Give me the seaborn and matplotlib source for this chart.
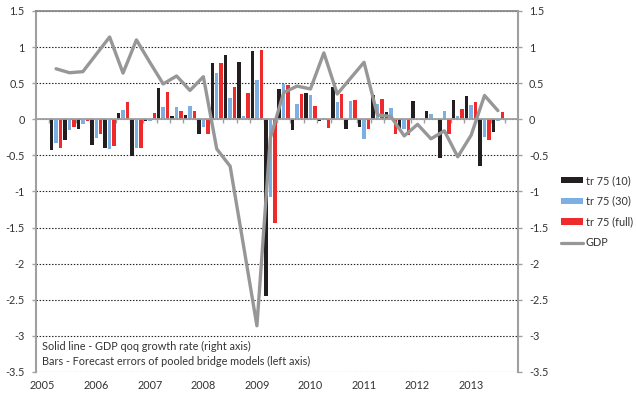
import numpy as np
import pandas as pd
import matplotlib
matplotlib.use("Agg")
import matplotlib.pyplot as plt
import seaborn as sns
from matplotlib.patches import Patch
from matplotlib.lines import Line2D

# Quarterly categories 2005Q1 .. 2013Q4
years = [2005, 2006, 2007, 2008, 2009, 2010, 2011, 2012, 2013]
quarters = [f"{y}Q{q}" for y in years for q in (1, 2, 3, 4)]

nan = np.nan
# Forecast errors of pooled bridge models (left axis)
tr75_10 = [nan, -0.43, -0.29, -0.13, -0.36, -0.40, 0.09, -0.51, -0.03, 0.43, 0.04, 0.055,
           -0.20, 0.78, 0.89, 0.80, 0.94, -2.45, 0.42, -0.15, 0.36, -0.02, 0.45, -0.13,
           -0.10, 0.34, 0.10, -0.13, 0.26, 0.11, -0.54, 0.27, 0.32, -0.64, -0.18, nan]
tr75_30 = [nan, -0.33, -0.15, -0.07, -0.26, -0.41, 0.125, -0.40, -0.02, 0.17, 0.17, 0.18,
           -0.11, 0.64, 0.29, 0.04, 0.54, -1.08, 0.49, 0.21, 0.33, 0.015, 0.24, 0.25,
           -0.27, 0.21, 0.16, -0.14, 0.005, 0.07, 0.11, 0.045, 0.20, -0.24, -0.02, nan]
tr75_full = [nan, -0.40, -0.11, -0.02, -0.21, -0.37, 0.235, -0.40, 0.09, 0.38, 0.12, 0.11,
             -0.20, 0.78, 0.45, 0.36, 0.96, -1.44, 0.48, 0.35, 0.19, -0.12, 0.35, 0.27,
             -0.13, 0.28, -0.21, -0.22, -0.01, 0.0, -0.21, 0.14, 0.24, -0.29, 0.10, nan]
# GDP quarter-on-quarter growth rate (right axis)
gdp = [nan, 0.70, 0.645, 0.66, 0.90, 1.14, 0.64, 1.10, 0.79, 0.49, 0.60, 0.40,
       0.59, -0.41, -0.65, -1.75, -2.86, -0.26, 0.37, 0.46, 0.42, 0.92, 0.35, 0.57,
       0.79, 0.06, 0.04, -0.23, -0.07, -0.27, -0.16, -0.52, -0.22, 0.33, 0.12, nan]

series_names = ["tr 75 (10)", "tr 75 (30)", "tr 75 (full)"]
series_colors = ["#231F20", "#7DB0E2", "#EE2B2A"]
gdp_color = "#979797"
text_color = "#333333"
axis_color = "#A0A0A0"

y_ticks = [1.5, 1, 0.5, 0, -0.5, -1, -1.5, -2, -2.5, -3, -3.5]

sns.set_theme(style="white")
plt.rcParams["font.family"] = ["Lato", "DejaVu Sans"]
fs = 7.8

fig = plt.figure(figsize=(6.36, 3.99), dpi=100)
ax = fig.add_axes([36 / 636, 1 - 372 / 399, 482 / 636, 361 / 399])

df = pd.DataFrame({
    "quarter": quarters * 3,
    "series": np.repeat(series_names, len(quarters)),
    "value": tr75_10 + tr75_30 + tr75_full,
}).dropna()

sns.barplot(data=df, x="quarter", y="value", hue="series", order=quarters,
            hue_order=series_names, palette=series_colors, width=1.0, gap=0.22,
            saturation=1, linewidth=0, ax=ax, legend=False, zorder=3)

ax.set_xlim(-0.5, len(quarters) - 0.5)
ax.set_ylim(-3.5, 1.5)
ax.set_xlabel("")
ax.set_ylabel("")
ax.set_yticks(y_ticks, [f"{v:g}" for v in y_ticks])
ax.yaxis.grid(True, linestyle=(0, (1.3, 1.5)), color="#222222", linewidth=0.8)
ax.set_axisbelow(True)
ax.tick_params(axis="y", length=3, width=1, color=axis_color, pad=5,
               labelsize=fs, labelcolor=text_color, left=True)

# Zero line carries the quarter boundary ticks
ax.spines["bottom"].set_position(("data", 0))
ax.spines["bottom"].set_color(axis_color)
ax.spines["bottom"].set_linewidth(1.3)
ax.spines["bottom"].set_zorder(4)
ax.set_xticks([])
ax.set_xticks(np.arange(0.5, len(quarters) - 1, 1), minor=True)
ax.tick_params(axis="x", which="minor", length=3, width=1, color=axis_color,
               direction="out", bottom=True)
ax.spines["left"].set_color(axis_color)
ax.spines["left"].set_linewidth(1.5)
ax.spines["top"].set_color("#8A8A8A")
ax.spines["top"].set_linestyle((0, (1.5, 1.0)))
ax.spines["top"].set_linewidth(1.3)
ax.spines["right"].set_visible(False)

# Year labels along the bottom of the plot area
sec = ax.secondary_xaxis(0.0)
sec.set_xticks(np.arange(0, len(quarters), 4), [str(y) for y in years])
sec.tick_params(length=0, pad=6, labelsize=fs, labelcolor=text_color)
sec.spines["bottom"].set_visible(False)

# GDP line on the right axis
ax2 = ax.twinx()
x_pos = np.arange(len(quarters))
gdp_df = pd.DataFrame({"x": x_pos, "gdp": gdp}).dropna()
sns.lineplot(data=gdp_df, x="x", y="gdp", ax=ax2, color=gdp_color, linewidth=2.4)
ax2.set_ylim(-3.5, 1.5)
ax2.set_xlim(-0.5, len(quarters) - 0.5)
ax2.set_ylabel("")
ax2.set_yticks(y_ticks, [f"{v:g}" for v in y_ticks])
ax2.tick_params(axis="y", length=3, width=1, color=axis_color, pad=5,
                labelsize=fs, labelcolor=text_color, right=True)
for side in ("left", "top", "bottom"):
    ax2.spines[side].set_visible(False)
ax2.spines["right"].set_color(axis_color)
ax2.spines["right"].set_linewidth(1.5)

ax.text(0.013, 0.072, "Solid line - GDP qoq growth rate (right axis)",
        transform=ax.transAxes, fontsize=fs, color=text_color, va="center", ha="left")
ax.text(0.013, 0.028, "Bars - Forecast errors of pooled bridge models (left axis)",
        transform=ax.transAxes, fontsize=fs, color=text_color, va="center", ha="left")

handles = [Patch(facecolor=c, edgecolor="none") for c in series_colors]
handles.append(Line2D([0], [0], color=gdp_color, linewidth=2.3))
fig.legend(handles, series_names + ["GDP"], loc="upper left",
           bbox_to_anchor=(561 / 636, 1 - 175 / 399), frameon=False,
           fontsize=fs, handlelength=2.0, handleheight=0.55, handletextpad=0.3,
           labelspacing=0.9, borderpad=0, borderaxespad=0, labelcolor=text_color)

fig.savefig("out.png", dpi=100)
